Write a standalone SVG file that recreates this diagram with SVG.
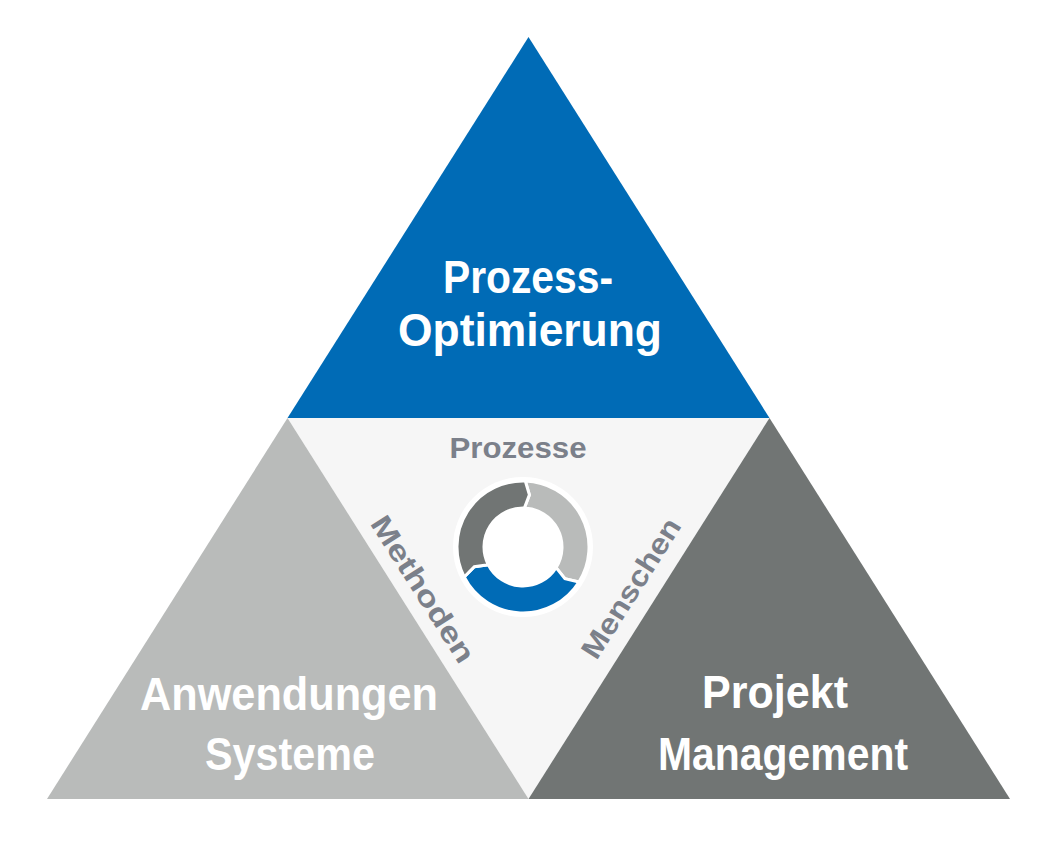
<svg xmlns="http://www.w3.org/2000/svg" width="1050" height="843" viewBox="0 0 1050 843">
<style>
.big{font-family:"Liberation Sans",Arial,sans-serif;font-weight:bold;font-size:47px;fill:#ffffff;text-anchor:middle}
.small{font-family:"Liberation Sans",Arial,sans-serif;font-weight:bold;font-size:29px;fill:#7b808a;text-anchor:middle}
.seg{stroke:#ffffff;stroke-width:3;stroke-linejoin:miter}
</style>
<rect width="1050" height="843" fill="#ffffff"/>
<g id="center">
<polygon points="287.5,418 769.5,418 528.5,799" fill="#f6f6f6"/>
</g>
<g id="prozess-optimierung">
<polygon points="528.5,37 769.5,418 287.5,418" fill="#006bb6"/>
<text class="big" x="528" y="293" textLength="170" lengthAdjust="spacingAndGlyphs">Prozess-</text>
<text class="big" x="530" y="346" textLength="264" lengthAdjust="spacingAndGlyphs">Optimierung</text>
</g>
<g id="anwendungen-systeme">
<polygon points="287.5,418 528.5,799 47,799" fill="#b9bbba"/>
<text class="big" x="289" y="710" textLength="298" lengthAdjust="spacingAndGlyphs">Anwendungen</text>
<text class="big" x="290" y="770" textLength="170" lengthAdjust="spacingAndGlyphs">Systeme</text>
</g>
<g id="projekt-management">
<polygon points="769.5,418 1010,799 528.5,799" fill="#717574"/>
<text class="big" x="775" y="708" textLength="146" lengthAdjust="spacingAndGlyphs">Projekt</text>
<text class="big" x="783" y="770" textLength="250" lengthAdjust="spacingAndGlyphs">Management</text>
</g>
<g id="cycle">
<circle cx="523" cy="547" r="70" fill="#ffffff"/>
<path class="seg" fill="#b9bbba" d="M 525.30 481.04 A 66 66 0 0 1 578.97 581.97 L 564.93 578.59 L 556.07 567.67 A 39 39 0 0 0 524.36 508.02 L 529.40 494.89 Z"/>
<path class="seg" fill="#006bb6" d="M 578.97 581.97 A 66 66 0 0 1 464.19 576.96 L 474.32 566.67 L 488.25 564.71 A 39 39 0 0 0 556.07 567.67 L 564.93 578.59 Z"/>
<path class="seg" fill="#717574" d="M 464.19 576.96 A 66 66 0 0 1 525.30 481.04 L 529.40 494.89 L 524.36 508.02 A 39 39 0 0 0 488.25 564.71 L 474.32 566.67 Z"/>
</g>
<g id="label-prozesse">
<text class="small" x="518" y="458" textLength="137" lengthAdjust="spacingAndGlyphs">Prozesse</text>
</g>
<g id="label-methoden">
<text class="small" transform="translate(423,589) rotate(57.6)" x="0" y="10" textLength="168" lengthAdjust="spacingAndGlyphs">Methoden</text>
</g>
<g id="label-menschen">
<text class="small" transform="translate(631,588) rotate(-57.6)" x="0" y="10" textLength="160" lengthAdjust="spacingAndGlyphs">Menschen</text>
</g>
<g id="connectors"></g>
</svg>
